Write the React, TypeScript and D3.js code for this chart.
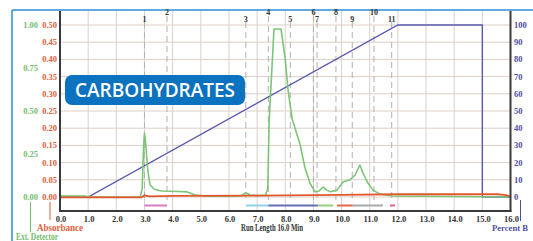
import React from 'react';
import * as d3 from 'd3';

// axis ticks
const timeTicks = [0, 1, 2, 3, 4, 5, 6, 7, 8, 9, 10, 11, 12, 13, 14, 15, 16];
const absTicks = [0, 0.05, 0.1, 0.15, 0.2, 0.25, 0.3, 0.35, 0.4, 0.45, 0.5];
const extTicks = [0, 0.25, 0.5, 0.75, 1.0];
const pctTicks = [0, 10, 20, 30, 40, 50, 60, 70, 80, 90, 100];

// Ext. Detector trace (green)
const extTime = [0, 0.9, 1.0, 2.85, 2.92, 2.97, 3.0, 3.05, 3.12, 3.2, 3.35, 3.6, 4.2, 4.5, 4.8, 5.2, 6.0, 6.45, 6.6, 6.75, 7.0, 7.3, 7.38, 7.43, 7.6, 7.85, 8.0, 8.1, 8.25, 8.52, 8.7, 8.88, 9.06, 9.2, 9.34, 9.48, 9.6, 9.84, 10.05, 10.3, 10.48, 10.65, 10.76, 10.94, 11.12, 11.36, 11.8, 14.0, 16.0];
const extValue = [0.006, 0.006, 0.0, 0.0, 0.05, 0.3, 0.372, 0.3, 0.15, 0.07, 0.045, 0.035, 0.032, 0.03, 0.012, 0.004, 0.004, 0.008, 0.025, 0.012, 0.008, 0.01, 0.05, 0.45, 0.977, 0.977, 0.8, 0.62, 0.45, 0.31, 0.17, 0.08, 0.03, 0.035, 0.058, 0.04, 0.03, 0.04, 0.087, 0.1, 0.128, 0.186, 0.14, 0.08, 0.04, 0.017, 0.006, 0.003, 0.0];

// Absorbance trace (red)
const absTime = [0, 2.9, 3.0, 3.15, 4.0, 7.0, 10.0, 12.0, 15.5, 15.8, 16.0];
const absValue = [-0.001, -0.001, 0.005, 0.002, 0.003, 0.004, 0.006, 0.008, 0.008, 0.006, 0.001];

// gradient (blue)
const gradTime = [0, 1.0, 12.0, 15.0, 15.0, 16.0];
const gradPct = [0, 0, 100, 100, 0, 0];

// peak markers
const peakLabels = ['1', '2', '3', '4', '5', '6', '7', '8', '9', '10', '11'];
const peakTimes = [3.0, 3.8, 6.6, 7.4, 8.18, 9.0, 9.13, 9.8, 10.38, 11.15, 11.78];

// fraction collection bars
const fracStart = [3.0, 6.6, 7.4, 9.16, 9.84, 10.4, 11.72];
const fracEnd = [3.8, 7.4, 9.16, 9.7, 10.4, 11.47, 11.9];
const fracColors = ['#d77bc0', '#8fd3e8', '#6a6ab8', '#93cf7e', '#e56a45', '#a8a8a8', '#e0609a'];

const x = d3.scaleLinear().domain([0, 16]).range([60, 510.5]);
const yAbs = d3.scaleLinear().domain([0, 0.5]).range([197, 25]);
const yExt = d3.scaleLinear().domain([0, 1]).range([197, 25]);
const yPct = d3.scaleLinear().domain([0, 100]).range([197, 25]);

const serif = '"Liberation Serif", "Times New Roman", serif';

function App() {
  const extLine = d3.line<number>().x((d, i) => x(extTime[i])).y(d => yExt(d));
  const absLine = d3.line<number>().x((d, i) => x(absTime[i])).y(d => yAbs(d));
  const gradLine = d3.line<number>().x((d, i) => x(gradTime[i])).y(d => yPct(d));

  const top = 11;
  const bottom = 211;

  return (
    <svg width={533} height={241} style={{ position: 'fixed', left: 0, top: 0, background: '#fff' }}>
      {/* frame */}
      <line x1={12} x2={533} y1={10} y2={10} stroke="#2a8fd4" strokeWidth={1.5} />
      <line x1={12} x2={12} y1={10} y2={241} stroke="#2a8fd4" strokeWidth={1.5} />

      {/* grid */}
      <g stroke="#dccfc9" strokeWidth={1}>
        {timeTicks.map(t => (
          <line key={'v' + t} x1={x(t)} x2={x(t)} y1={top} y2={bottom} />
        ))}
        {absTicks.map(t => (
          <line key={'h' + t} x1={60} x2={510.5} y1={yAbs(t)} y2={yAbs(t)} />
        ))}
      </g>

      {/* peak markers */}
      <g>
        {peakTimes.map((t, i) => (
          <g key={'p' + i}>
            <line x1={x(t)} x2={x(t)} y1={i % 2 === 0 ? 22 : 16} y2={200} stroke="#b5b0ae" strokeWidth={1} strokeDasharray="6,4" />
            <text x={x(t)} y={i % 2 === 0 ? 22 : 15} fontFamily={serif} fontWeight="bold" fontSize={8} fill="#333" textAnchor="middle">
              {peakLabels[i]}
            </text>
          </g>
        ))}
      </g>

      {/* traces */}
      <path d={gradLine(gradPct) || ''} fill="none" stroke="#5a5aae" strokeWidth={1.4} />
      <path d={extLine(extValue) || ''} fill="none" stroke="#7cc576" strokeWidth={1.6} strokeLinejoin="round" />
      <path d={absLine(absValue) || ''} fill="none" stroke="#e2582e" strokeWidth={1.8} />

      {/* fraction bars */}
      {fracStart.map((s, i) => (
        <line key={'f' + i} x1={x(s)} x2={x(fracEnd[i])} y1={205.5} y2={205.5} stroke={fracColors[i]} strokeWidth={2} />
      ))}

      {/* axes */}
      <g stroke="#3a3a3a" strokeWidth={2}>
        <line x1={60} x2={60} y1={top} y2={bottom + 1} />
        <line x1={510.5} x2={510.5} y1={top} y2={bottom + 1} />
        <line x1={59} x2={511.5} y1={bottom} y2={bottom} />
      </g>

      {/* x tick labels */}
      <g fontFamily={serif} fontWeight="bold" fontSize={8.5} fill="#333" textAnchor="middle">
        {timeTicks.map(t => (
          <text key={'xt' + t} x={x(t) + 1} y={222}>{t.toFixed(1)}</text>
        ))}
      </g>
      <text x={272} y={231} fontFamily={serif} fontWeight="bold" fontSize={9.5} fill="#333" textAnchor="middle" textLength={62} lengthAdjust="spacingAndGlyphs">
        Run Length 16.0 Min
      </text>

      {/* left axis labels */}
      <g fontFamily={serif} fontWeight="bold" fontSize={8.5} fill="#e0603c" textAnchor="end">
        {absTicks.map(t => (
          <text key={'at' + t} x={57} y={yAbs(t) + 3}>{t.toFixed(2)}</text>
        ))}
      </g>
      <g fontFamily={serif} fontWeight="bold" fontSize={8.5} fill="#74bd6e" textAnchor="end">
        {extTicks.map(t => (
          <text key={'et' + t} x={38} y={yExt(t) + 3}>{t.toFixed(2)}</text>
        ))}
      </g>

      {/* right axis labels */}
      <g fontFamily={serif} fontWeight="bold" fontSize={8.5} fill="#4e4ea0" textAnchor="start">
        {pctTicks.map(t => (
          <text key={'pt' + t} x={514} y={yPct(t) + 3}>{t}</text>
        ))}
      </g>

      {/* axis captions */}
      <line x1={30.5} x2={30.5} y1={202} y2={232} stroke="#74bd6e" strokeWidth={1} />
      <line x1={50} x2={50} y1={202} y2={220} stroke="#e0603c" strokeWidth={1} />
      <text x={37} y={231} fontFamily={serif} fontWeight="bold" fontSize={9.5} fill="#e0603c" textLength={46} lengthAdjust="spacingAndGlyphs">
        Absorbance
      </text>
      <text x={16} y={240} fontFamily={serif} fontWeight="bold" fontSize={9.5} fill="#74bd6e" textLength={42} lengthAdjust="spacingAndGlyphs">
        Ext. Detector
      </text>
      <line x1={520.5} x2={520.5} y1={200} y2={221} stroke="#4e4ea0" strokeWidth={1} />
      <text x={492} y={231} fontFamily={serif} fontWeight="bold" fontSize={9} fill="#4e4ea0" textLength={36} lengthAdjust="spacingAndGlyphs">
        Percent B
      </text>

      {/* badge */}
      <rect x={65} y={75} width={180} height={30} rx={7} fill="#0a72bf" />
      <text x={155} y={97} fontFamily={'"Open Sans", sans-serif'} fontWeight={600} fontSize={19.5} fill="#fff" textAnchor="middle" textLength={160} lengthAdjust="spacingAndGlyphs">
        CARBOHYDRATES
      </text>
    </svg>
  );
}

export default App;
